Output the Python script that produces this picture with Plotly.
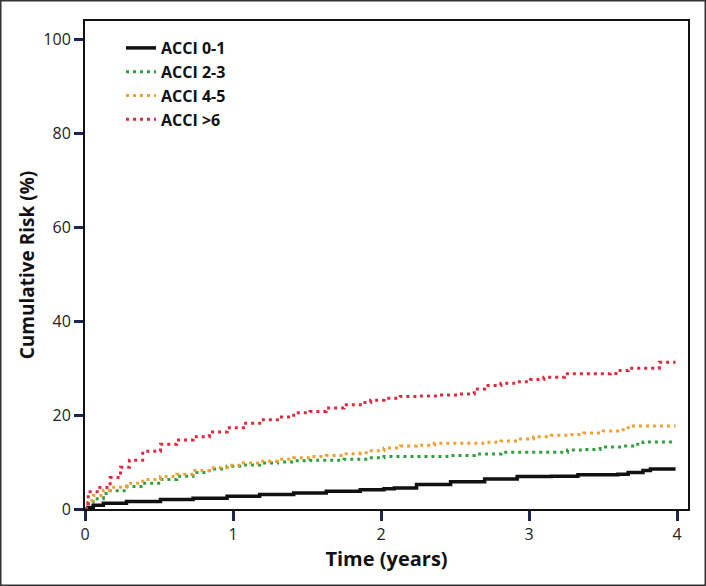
import plotly.graph_objects as go

# Time (years) and cumulative risk (%)
t_acci01 = [0.0, 0.02, 0.056, 0.124, 0.28, 0.51, 0.73, 0.96, 1.18, 1.41, 1.63, 1.86, 2.02, 2.09, 2.24, 2.47, 2.70, 2.92, 3.15, 3.33, 3.60, 3.67, 3.77, 3.82, 3.99]
r_acci01 = [0.0, 0.3, 0.8, 1.2, 1.6, 2.0, 2.3, 2.7, 3.1, 3.4, 3.8, 4.1, 4.3, 4.5, 5.2, 5.8, 6.4, 6.9, 7.0, 7.3, 7.4, 7.8, 8.2, 8.5, 8.5]

t_acci23 = [0.0, 0.02, 0.056, 0.124, 0.17, 0.28, 0.39, 0.51, 0.62, 0.73, 0.84, 0.96, 1.07, 1.18, 1.30, 1.41, 1.52, 1.75, 1.91, 2.02, 2.47, 2.63, 2.81, 3.03, 3.26, 3.37, 3.48, 3.64, 3.72, 3.77, 3.99]
r_acci23 = [0.0, 1.4, 2.2, 3.3, 3.9, 4.8, 5.5, 6.3, 7.0, 7.8, 8.5, 9.1, 9.4, 9.8, 10.0, 10.3, 10.4, 10.6, 10.9, 11.2, 11.4, 11.7, 12.1, 12.1, 12.6, 12.7, 13.2, 13.4, 13.8, 14.3, 14.3]

t_acci45 = [0.0, 0.02, 0.056, 0.124, 0.17, 0.28, 0.39, 0.51, 0.62, 0.73, 0.84, 0.96, 1.07, 1.18, 1.30, 1.41, 1.52, 1.63, 1.75, 1.86, 1.91, 2.02, 2.13, 2.24, 2.36, 2.70, 2.81, 2.92, 3.03, 3.15, 3.26, 3.37, 3.50, 3.60, 3.67, 3.99]
r_acci45 = [0.0, 1.8, 2.9, 4.0, 4.65, 5.5, 6.3, 6.9, 7.4, 8.2, 8.8, 9.3, 9.8, 10.2, 10.6, 10.9, 11.2, 11.4, 11.8, 12.0, 12.4, 13.0, 13.4, 13.6, 14.0, 14.2, 14.5, 14.9, 15.4, 15.7, 15.9, 16.2, 16.6, 16.9, 17.7, 17.7]

t_acci6 = [0.0, 0.022, 0.10, 0.17, 0.24, 0.30, 0.39, 0.51, 0.62, 0.73, 0.84, 0.96, 1.07, 1.18, 1.30, 1.41, 1.52, 1.63, 1.75, 1.86, 1.93, 2.02, 2.13, 2.24, 2.38, 2.53, 2.63, 2.70, 2.81, 2.92, 3.01, 3.10, 3.24, 3.55, 3.60, 3.67, 3.88, 3.99]
r_acci6 = [0.0, 3.7, 4.6, 6.7, 8.9, 10.4, 12.3, 13.8, 14.7, 15.4, 16.4, 17.3, 18.3, 19.0, 19.6, 20.5, 20.8, 21.5, 22.2, 22.7, 23.2, 23.6, 24.0, 24.1, 24.3, 24.5, 25.6, 26.3, 26.8, 27.1, 27.6, 28.1, 28.8, 28.9, 29.5, 30.0, 31.3, 31.3]

series_names = ["ACCI 0-1", "ACCI 2-3", "ACCI 4-5", "ACCI >6"]
x_ticks = [0, 1, 2, 3, 4]
y_ticks = [0, 20, 40, 60, 80, 100]

colors = ["#111111", "#2e9e3e", "#f0a030", "#e0283a"]
series = [(t_acci01, r_acci01), (t_acci23, r_acci23), (t_acci45, r_acci45), (t_acci6, r_acci6)]

fig = go.Figure()
for i, ((tx, ry), name) in enumerate(zip(series, series_names)):
    if i == 0:
        line = dict(color=colors[i], width=3.5, shape="hv")
    else:
        line = dict(color=colors[i], width=3, shape="hv", dash="3px,4px")
    fig.add_trace(go.Scatter(x=tx, y=ry, mode="lines", name=name, line=line))

W, H = 706, 586
ml, mr, mt, mb = 85, 18, 21, 77
pw, ph = W - ml - mr, H - mt - mb

font_family = "'Open Sans', Lato, sans-serif"

fig.update_layout(
    width=W, height=H,
    margin=dict(l=ml, r=mr, t=mt, b=mb),
    paper_bgcolor="white", plot_bgcolor="white",
    showlegend=True,
    legend=dict(
        x=(121 - ml) / pw, y=(H - mb - 31) / ph, xanchor="left", yanchor="top",
        font=dict(family=font_family, size=16, color="#111111", weight="bold"),
        bgcolor="rgba(0,0,0,0)", itemwidth=30, tracegroupgap=0,
    ),
    font=dict(family=font_family, color="#222222"),
)

fig.update_xaxes(
    range=[0, 4.074], tickvals=x_ticks, ticktext=[str(v) for v in x_ticks],
    showgrid=False, zeroline=False,
    showline=True, linecolor="#111111", linewidth=2, mirror=True,
    ticks="outside", ticklen=10, tickwidth=2.5, tickcolor="#1c2452",
    tickfont=dict(family=font_family, size=16, color="#222222"),
    title=dict(text="Time (years)", font=dict(family=font_family, size=20, color="#111111", weight="bold"), standoff=4),
)
fig.update_yaxes(
    range=[0, 104], tickvals=y_ticks, ticktext=[str(v) for v in y_ticks],
    showgrid=False, zeroline=False,
    showline=True, linecolor="#111111", linewidth=2, mirror=True,
    ticks="outside", ticklen=9, tickwidth=2.5, tickcolor="#1c2452",
    tickfont=dict(family=font_family, size=16, color="#222222"),
    title=dict(text="Cumulative Risk (%)", font=dict(family=font_family, size=19, color="#111111", weight="bold"), standoff=4),
)

# outer image border
fig.add_shape(
    type="rect", xref="paper", yref="paper",
    x0=(0.75 - ml) / pw, x1=(W - 0.75 - ml) / pw,
    y0=-(mb - 0.75) / ph, y1=(H - mb - 0.75) / ph,
    line=dict(color="#333333", width=1.5), fillcolor="rgba(0,0,0,0)", layer="above",
)

fig.write_html("out.html", config={"displayModeBar": False},
               post_script="document.body.style.margin='0px';")
